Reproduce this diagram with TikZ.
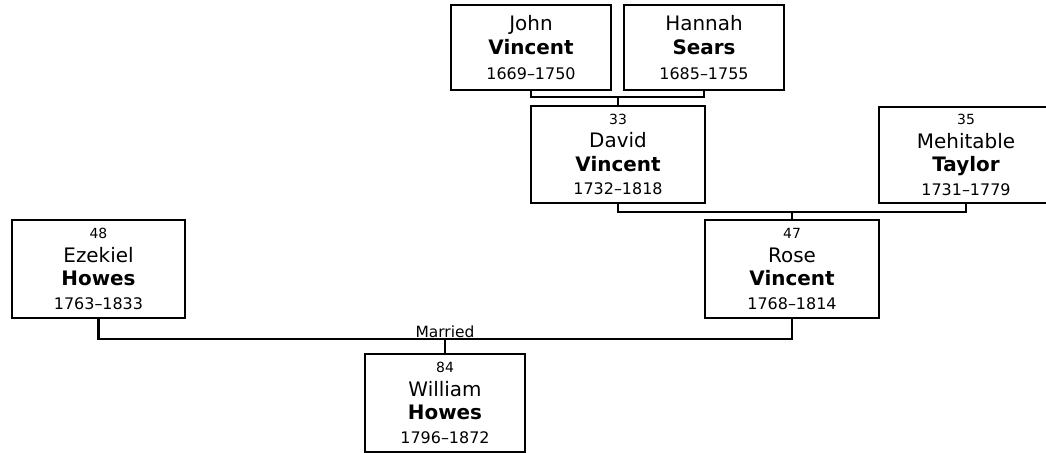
\documentclass[tikz,border=0pt]{standalone}
\usepackage{fontspec}
\setmainfont{DejaVu Sans}
\usetikzlibrary{positioning}

\newcommand{\gennum}[1]{{\fontsize{14}{23.5}\selectfont #1}}
\newcommand{\lifespan}[1]{{\fontsize{16}{23.5}\selectfont #1}}

\begin{document}
\begin{tikzpicture}[x=1bp, y=-1bp,
        person/.style={draw, line width=2.2bp, rectangle, align=center, inner sep=0pt,
            font=\fontsize{20}{23.5}\selectfont},
        link/.style={draw, line width=2.2bp}]
                \useasboundingbox (0,0) rectangle (1046,453);
                % grandparents
                \node[person, minimum width=160bp, minimum height=85bp, font=\fontsize{20}{25}\selectfont] (john) at (531,47.5) {John\\ \textbf{Vincent}\\ \lifespan{1669--1750}};
                \node[person, minimum width=160bp, minimum height=85bp, font=\fontsize{20}{25}\selectfont] (hannah) at (704,47.5) {Hannah\\ \textbf{Sears}\\ \lifespan{1685--1755}};
                % parents
                \node[person, minimum width=174bp, minimum height=97bp] (david) at (618,154.5) {\gennum{33}\\ David\\ \textbf{Vincent}\\ \lifespan{1732--1818}};
                \node[person, minimum width=174bp, minimum height=96bp] (mehitable) at (966,155) {\gennum{35}\\ Mehitable\\ \textbf{Taylor}\\ \lifespan{1731--1779}};
                \node[person, minimum width=173bp, minimum height=98bp] (ezekiel) at (98.5,269) {\gennum{48}\\ Ezekiel\\ \textbf{Howes}\\ \lifespan{1763--1833}};
                \node[person, minimum width=174bp, minimum height=98bp] (rose) at (792,269) {\gennum{47}\\ Rose\\ \textbf{Vincent}\\ \lifespan{1768--1814}};
                \node[person, minimum width=160bp, minimum height=98bp] (william) at (445,403) {\gennum{84}\\ William\\ \textbf{Howes}\\ \lifespan{1796--1872}};
                % couples
                \coordinate (jh) at (618,97);
                \coordinate (dm) at (792,212);
                \coordinate (er) at (445,339);
                \draw[link] (john.south) |- (jh) -| (hannah.south);
                \draw[link] (jh) -- (david.north);
                \draw[link] (david.south) |- (dm) -| (mehitable.south);
                \draw[link] (dm) -- (rose.north);
                \draw[link] (ezekiel.south) |- (er) -| (rose.south);
                \draw[link] (er) -- (william.north);
                \node[above=0pt of er, inner sep=1.5bp, font=\fontsize{15.5}{18}\selectfont] (married) {Married};
            \end{tikzpicture}
\end{document}
